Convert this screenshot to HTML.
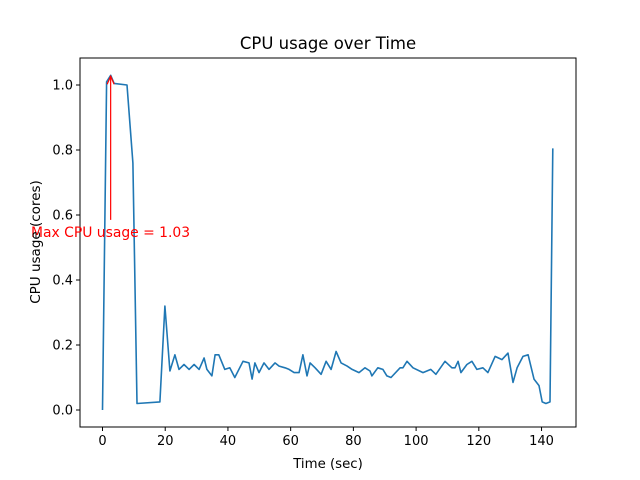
<!DOCTYPE html>
<html><head><meta charset="utf-8"><style>
body{margin:0;background:#fff}
svg{display:block;font-family:"DejaVu Sans","Liberation Sans",sans-serif}
</style></head><body>
<svg id="chart" width="640" height="480" viewBox="0 0 640 480" xmlns="http://www.w3.org/2000/svg">
<rect width="640" height="480" fill="#fff"/>
<text x="328" y="49" text-anchor="middle" font-size="16.5" fill="#000">CPU usage over Time</text>
<g id="plot"></g>
<text x="328" y="468" text-anchor="middle" font-size="13.3">Time (sec)</text>
<text transform="translate(40,242) rotate(-90)" text-anchor="middle" font-size="13.5">CPU usage (cores)</text>
</svg>
<script>
const timeSec=[0,1.3,2.6,3.7,7.8,9.7,11.0,18.3,19.9,21.5,23.1,24.4,26.0,27.6,29.2,30.8,32.4,33.3,34.9,35.9,37.1,39.0,40.6,42.2,44.8,46.7,47.7,48.6,49.9,51.5,53.1,55.0,56.3,58.2,59.5,61.1,62.7,63.9,65.2,66.2,67.8,69.7,71.3,72.9,74.5,76.1,78.0,79.6,81.8,83.7,85.3,85.9,87.8,89.4,90.7,92.0,94.9,95.8,97.1,99.0,102.2,104.7,106.3,109.2,111.4,112.4,113.4,114.3,116.2,117.8,119.4,121.3,122.9,125.2,127.4,129.3,130.9,132.2,134.1,135.7,137.6,139.2,140.2,141.4,142.7,143.6];
const cpuCores=[0,1.01,1.03,1.005,1.0,0.76,0.02,0.025,0.32,0.12,0.17,0.125,0.14,0.125,0.14,0.125,0.16,0.125,0.105,0.17,0.17,0.125,0.13,0.1,0.15,0.145,0.095,0.145,0.115,0.145,0.125,0.145,0.135,0.13,0.125,0.115,0.115,0.17,0.105,0.145,0.13,0.11,0.15,0.125,0.18,0.145,0.135,0.125,0.115,0.13,0.12,0.105,0.13,0.125,0.105,0.1,0.13,0.13,0.15,0.13,0.115,0.125,0.11,0.15,0.13,0.13,0.15,0.115,0.14,0.15,0.125,0.13,0.115,0.165,0.155,0.175,0.085,0.13,0.165,0.17,0.095,0.075,0.025,0.02,0.025,0.805];
const xTicks=[0,20,40,60,80,100,120,140];
const yTicks=[0.0,0.2,0.4,0.6,0.8,1.0];
const maxLabel="Max CPU usage = 1.03";

const L=80,R=576,T=58,B=427;
const sx=v=>102.5+v*3.136;
const sy=v=>410-v*325;
const NS="http://www.w3.org/2000/svg";
const g=document.getElementById('plot');
function mk(tag,attrs){const e=document.createElementNS(NS,tag);for(const k in attrs)e.setAttribute(k,attrs[k]);g.appendChild(e);return e;}

const frame=mk('rect',{x:L,y:T,width:R-L,height:B-T,fill:'none',stroke:'#000','stroke-width':1});



xTicks.forEach(v=>{
  const x=sx(v);
  const t=mk('line',{x1:x,x2:x,y1:B,y2:B+4,stroke:'#000'});
  
  
  const lb=mk('text',{x:x,y:B+18,'text-anchor':'middle','font-size':13});
  lb.textContent=String(v);
  
  
});
yTicks.forEach(v=>{
  const y=sy(v);
  const t=mk('line',{x1:L-4,x2:L,y1:y,y2:y,stroke:'#000'});
  
  
  const lb=mk('text',{x:L-7,y:y+4.5,'text-anchor':'end','font-size':13});
  lb.textContent=v.toFixed(1);
  
  
});

const pts=timeSec.map((t,i)=>sx(t).toFixed(1)+','+sy(cpuCores[i]).toFixed(1)).join(' ');
const line=mk('polyline',{points:pts,fill:'none',stroke:'#1f77b4','stroke-width':1.6,'stroke-linejoin':'round'});



let mi=0;cpuCores.forEach((v,i)=>{if(v>cpuCores[mi])mi=i;});
const ax=sx(timeSec[mi]),ay=sy(cpuCores[mi]);
const arr=mk('line',{x1:ax,y1:sy(0.585),x2:ax,y2:ay+2,stroke:'red','stroke-width':1.2});


const head=mk('path',{d:`M${ax-3.5},${ay+9} L${ax},${ay+1} L${ax+3.5},${ay+9}`,fill:'none',stroke:'red','stroke-width':1.2});


const ann=mk('text',{x:31,y:237,'font-size':13.9,fill:'red'});
ann.textContent=maxLabel;


</script>
</body></html>
